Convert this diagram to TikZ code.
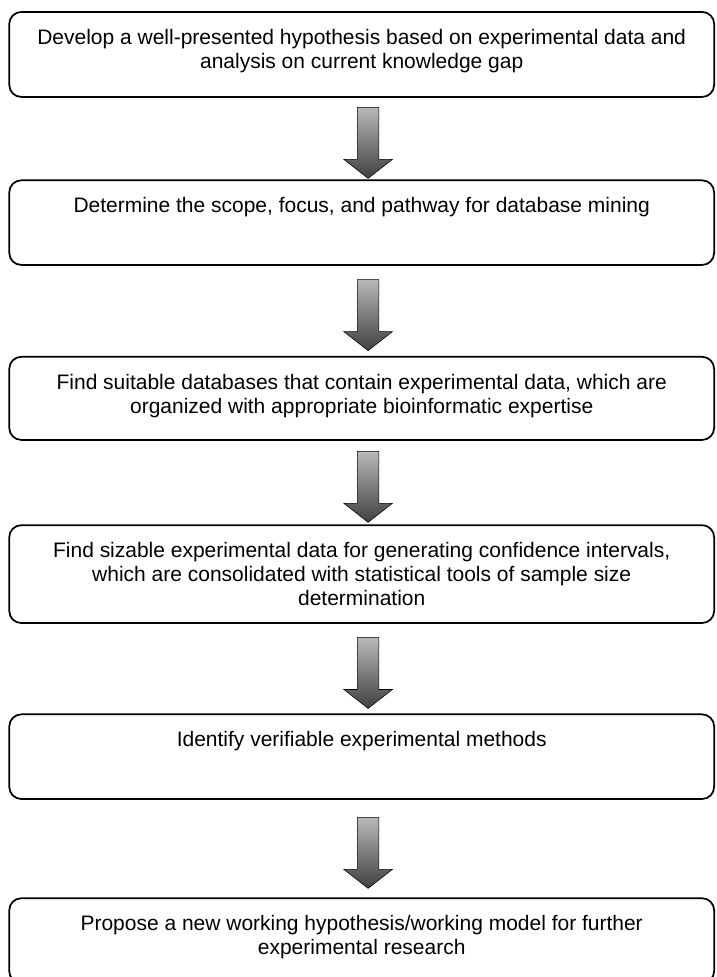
\documentclass[tikz,border=0pt]{standalone}
\usepackage{fontspec}
\setmainfont{Liberation Sans}
\usetikzlibrary{shapes.arrows,calc,positioning}
\tikzset{
    %Define style for boxes
    boks/.style={
           rectangle,
           rounded corners=0.32cm,
           draw=black, line width=1.3pt,
           minimum width=18.65cm,
           inner sep=0pt},
    %Define style for the box texts
    tekst/.style={
           anchor=north,
           yshift=-0.47cm,
           inner sep=0pt,
           align=center,
           font=\fontsize{15.8}{18}\selectfont},
    % Define block arrow style
    pil/.style={
           single arrow,
           draw=black, thin,
           shape border rotate=270,
           minimum height=1.88cm,
           inner sep=0.28cm,
           single arrow head extend=0.355cm,
           single arrow tip angle=104,
           top color=gray!55, bottom color=black!75}
}
\begin{document}
\begin{tikzpicture}

\useasboundingbox (0,0) rectangle (18.95,-25.85);

%hypothesis
\node[boks, minimum height=2.25cm] (hyp) at (9.57,-1.44) {};
\node[tekst] (hyptxt) at (hyp.north) {Develop a well-presented hypothesis based on experimental data and\\ analysis on current knowledge gap};

%scope
\node[boks, minimum height=2.24cm] (scope) at (9.57,-5.89) {};
\node[tekst] (scopetxt) at (scope.north) {Determine the scope, focus, and pathway for database mining};

%databases
\node[boks, minimum height=2.2cm] (db) at (9.57,-10.54) {};
\node[tekst] (dbtxt) at (db.north) {Find suitable databases that contain experimental data, which are\\ organized with appropriate bioinformatic expertise};

%sizable data
\node[boks, minimum height=2.59cm] (data) at (9.57,-15.19) {};
\node[tekst] (datatxt) at (data.north) {Find sizable experimental data for generating confidence intervals,\\ which are consolidated with statistical tools of sample size\\ determination};

%methods
\node[boks, minimum height=2.24cm] (meth) at (9.57,-20.02) {};
\node[tekst] (methtxt) at (meth.north) {Identify verifiable experimental methods};

%new model
\node[boks, minimum height=2.25cm] (model) at (9.57,-24.89) {};
\node[tekst] (modeltxt) at (model.north) {Propose a new working hypothesis/working model for further\\ experimental research};

% block arrows between the boxes
\node[pil, xshift=0.17cm] (p1) at ($(hyp.south)!0.5!(scope.north)$) {};
\node[pil, xshift=0.17cm] (p2) at ($(scope.south)!0.5!(db.north)$) {};
\node[pil, xshift=0.17cm] (p3) at ($(db.south)!0.5!(data.north)$) {};
\node[pil, xshift=0.17cm] (p4) at ($(data.south)!0.5!(meth.north)$) {};
\node[pil, xshift=0.17cm] (p5) at ($(meth.south)!0.5!(model.north)$) {};

\end{tikzpicture}
\end{document}
